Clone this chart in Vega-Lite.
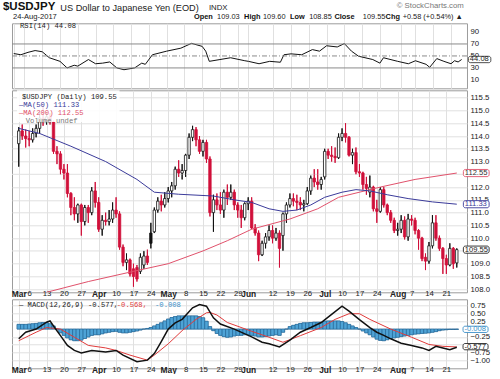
{
"$schema":"https://vega.github.io/schema/vega-lite/v6.json",
"background":"white",
"padding":{"left":2,"top":0.3,"right":0,"bottom":0},
"config":{"view":{"stroke":"#9c9c9c","strokeWidth":1},"font":"Liberation Sans","axis":{"labelFont":"Liberation Sans","labelFontSize":7.8,"labelColor":"#222","ticks":false,"tickSize":0,"domain":false,"gridColor":"#e0e0e0","gridWidth":1,"labelOverlap":false,"labelFlush":false}},
"datasets":{
"px":[
{"i":0,"d":"2017-03-01","o":113.7,"h":114.35,"l":112.8,"c":114.2},
{"i":1,"d":"2017-03-02","o":114.2,"h":114.45,"l":113.85,"c":114.0},
{"i":2,"d":"2017-03-03","o":114.0,"h":114.25,"l":113.55,"c":113.9},
{"i":3,"d":"2017-03-06","o":113.9,"h":114.2,"l":113.6,"c":113.85},
{"i":4,"d":"2017-03-07","o":113.85,"h":114.3,"l":113.75,"c":114.1},
{"i":5,"d":"2017-03-08","o":114.1,"h":114.45,"l":113.95,"c":114.3},
{"i":6,"d":"2017-03-09","o":114.3,"h":114.9,"l":114.1,"c":114.7},
{"i":7,"d":"2017-03-10","o":114.7,"h":115.2,"l":114.4,"c":114.6},
{"i":8,"d":"2017-03-13","o":114.6,"h":114.9,"l":114.45,"c":114.75},
{"i":9,"d":"2017-03-14","o":114.75,"h":114.9,"l":114.45,"c":114.55},
{"i":10,"d":"2017-03-15","o":114.55,"h":114.6,"l":113.3,"c":113.4},
{"i":11,"d":"2017-03-16","o":113.4,"h":113.6,"l":112.9,"c":113.3},
{"i":12,"d":"2017-03-17","o":113.3,"h":113.4,"l":112.5,"c":112.7},
{"i":13,"d":"2017-03-20","o":112.7,"h":112.9,"l":112.3,"c":112.55},
{"i":14,"d":"2017-03-21","o":112.55,"h":112.9,"l":111.6,"c":111.75},
{"i":15,"d":"2017-03-22","o":111.75,"h":111.8,"l":110.9,"c":111.2},
{"i":16,"d":"2017-03-23","o":111.2,"h":111.6,"l":110.7,"c":110.95},
{"i":17,"d":"2017-03-24","o":110.95,"h":111.35,"l":110.6,"c":111.3},
{"i":18,"d":"2017-03-27","o":111.3,"h":111.35,"l":110.1,"c":110.65},
{"i":19,"d":"2017-03-28","o":110.65,"h":111.3,"l":110.5,"c":111.2},
{"i":20,"d":"2017-03-29","o":111.2,"h":111.3,"l":110.6,"c":111.0},
{"i":21,"d":"2017-03-30","o":111.0,"h":112.0,"l":110.9,"c":111.85},
{"i":22,"d":"2017-03-31","o":111.85,"h":112.2,"l":111.2,"c":111.4},
{"i":23,"d":"2017-04-03","o":111.4,"h":111.6,"l":110.25,"c":110.35},
{"i":24,"d":"2017-04-04","o":110.35,"h":110.9,"l":110.1,"c":110.7},
{"i":25,"d":"2017-04-05","o":110.7,"h":111.0,"l":110.5,"c":110.65},
{"i":26,"d":"2017-04-06","o":110.65,"h":111.1,"l":110.5,"c":110.75},
{"i":27,"d":"2017-04-07","o":110.75,"h":111.4,"l":110.6,"c":111.1},
{"i":28,"d":"2017-04-10","o":111.1,"h":111.6,"l":110.8,"c":110.95},
{"i":29,"d":"2017-04-11","o":110.95,"h":111.05,"l":109.55,"c":109.65},
{"i":30,"d":"2017-04-12","o":109.65,"h":109.75,"l":108.9,"c":109.05},
{"i":31,"d":"2017-04-13","o":109.05,"h":109.4,"l":108.75,"c":109.15},
{"i":32,"d":"2017-04-14","o":109.15,"h":109.2,"l":108.5,"c":108.6},
{"i":33,"d":"2017-04-17","o":108.8,"h":109.0,"l":108.1,"c":108.5},
{"i":34,"d":"2017-04-18","o":108.85,"h":108.95,"l":108.3,"c":108.4},
{"i":35,"d":"2017-04-19","o":108.7,"h":109.4,"l":108.6,"c":109.25},
{"i":36,"d":"2017-04-20","o":108.95,"h":109.5,"l":108.8,"c":109.3},
{"i":37,"d":"2017-04-21","o":109.3,"h":109.55,"l":108.95,"c":109.05},
{"i":38,"d":"2017-04-24","o":110.2,"h":110.6,"l":109.6,"c":109.8},
{"i":39,"d":"2017-04-25","o":110.25,"h":111.2,"l":110.2,"c":111.1},
{"i":40,"d":"2017-04-26","o":111.1,"h":111.6,"l":111.0,"c":111.45},
{"i":41,"d":"2017-04-27","o":111.45,"h":111.7,"l":111.05,"c":111.3},
{"i":42,"d":"2017-04-28","o":111.3,"h":111.8,"l":111.2,"c":111.55},
{"i":43,"d":"2017-05-01","o":111.55,"h":112.0,"l":111.4,"c":111.85},
{"i":44,"d":"2017-05-02","o":111.85,"h":112.2,"l":111.6,"c":112.05},
{"i":45,"d":"2017-05-03","o":112.05,"h":112.8,"l":111.9,"c":112.7},
{"i":46,"d":"2017-05-04","o":112.7,"h":113.05,"l":112.4,"c":112.55},
{"i":47,"d":"2017-05-05","o":112.55,"h":112.9,"l":112.3,"c":112.65},
{"i":48,"d":"2017-05-08","o":112.65,"h":113.3,"l":112.4,"c":113.25},
{"i":49,"d":"2017-05-09","o":113.25,"h":114.1,"l":113.1,"c":113.95},
{"i":50,"d":"2017-05-10","o":113.95,"h":114.4,"l":113.8,"c":114.25},
{"i":51,"d":"2017-05-11","o":114.25,"h":114.35,"l":113.6,"c":113.85},
{"i":52,"d":"2017-05-12","o":113.85,"h":114.0,"l":113.3,"c":113.4},
{"i":53,"d":"2017-05-15","o":113.4,"h":113.85,"l":113.2,"c":113.75},
{"i":54,"d":"2017-05-16","o":113.75,"h":113.85,"l":112.95,"c":113.1},
{"i":55,"d":"2017-05-17","o":113.1,"h":113.2,"l":110.85,"c":111.0},
{"i":56,"d":"2017-05-18","o":111.0,"h":111.7,"l":110.25,"c":111.5},
{"i":57,"d":"2017-05-19","o":111.5,"h":111.75,"l":111.1,"c":111.3},
{"i":58,"d":"2017-05-22","o":111.3,"h":111.8,"l":110.95,"c":111.1},
{"i":59,"d":"2017-05-23","o":111.1,"h":111.9,"l":110.8,"c":111.8},
{"i":60,"d":"2017-05-24","o":111.8,"h":112.1,"l":111.3,"c":111.6},
{"i":61,"d":"2017-05-25","o":111.6,"h":112.1,"l":111.5,"c":111.8},
{"i":62,"d":"2017-05-26","o":111.8,"h":111.9,"l":111.1,"c":111.3},
{"i":63,"d":"2017-05-29","o":111.3,"h":111.4,"l":110.8,"c":111.1},
{"i":64,"d":"2017-05-30","o":111.1,"h":111.3,"l":110.4,"c":110.8},
{"i":65,"d":"2017-05-31","o":110.8,"h":111.4,"l":110.7,"c":111.35},
{"i":66,"d":"2017-06-01","o":111.35,"h":111.6,"l":111.1,"c":111.45},
{"i":67,"d":"2017-06-02","o":111.45,"h":111.6,"l":110.35,"c":110.4},
{"i":68,"d":"2017-06-05","o":110.4,"h":110.55,"l":110.1,"c":110.2},
{"i":69,"d":"2017-06-06","o":110.2,"h":110.3,"l":109.1,"c":109.35},
{"i":70,"d":"2017-06-07","o":109.35,"h":109.9,"l":109.3,"c":109.8},
{"i":71,"d":"2017-06-08","o":109.8,"h":110.2,"l":109.6,"c":110.05},
{"i":72,"d":"2017-06-09","o":110.05,"h":110.5,"l":109.9,"c":110.3},
{"i":73,"d":"2017-06-12","o":110.3,"h":110.5,"l":109.8,"c":110.0},
{"i":74,"d":"2017-06-13","o":110.0,"h":110.4,"l":109.9,"c":110.2},
{"i":75,"d":"2017-06-14","o":110.2,"h":110.3,"l":108.85,"c":109.6},
{"i":76,"d":"2017-06-15","o":110.1,"h":111.0,"l":109.5,"c":110.95},
{"i":77,"d":"2017-06-16","o":110.95,"h":111.4,"l":110.6,"c":111.3},
{"i":78,"d":"2017-06-19","o":111.3,"h":111.75,"l":111.2,"c":111.55},
{"i":79,"d":"2017-06-20","o":111.55,"h":111.75,"l":111.25,"c":111.45},
{"i":80,"d":"2017-06-21","o":111.45,"h":111.7,"l":111.1,"c":111.4},
{"i":81,"d":"2017-06-22","o":111.4,"h":111.6,"l":111.1,"c":111.3},
{"i":82,"d":"2017-06-23","o":111.3,"h":111.5,"l":111.05,"c":111.35},
{"i":83,"d":"2017-06-26","o":111.35,"h":112.0,"l":111.3,"c":111.85},
{"i":84,"d":"2017-06-27","o":111.85,"h":112.45,"l":111.7,"c":112.35},
{"i":85,"d":"2017-06-28","o":112.35,"h":112.7,"l":112.0,"c":112.2},
{"i":86,"d":"2017-06-29","o":112.2,"h":112.7,"l":111.9,"c":112.1},
{"i":87,"d":"2017-06-30","o":112.1,"h":112.4,"l":111.9,"c":112.3},
{"i":88,"d":"2017-07-03","o":112.4,"h":113.5,"l":112.3,"c":113.4},
{"i":89,"d":"2017-07-04","o":113.4,"h":113.5,"l":113.1,"c":113.25},
{"i":90,"d":"2017-07-05","o":113.25,"h":113.6,"l":113.0,"c":113.2},
{"i":91,"d":"2017-07-06","o":113.2,"h":113.55,"l":112.95,"c":113.15},
{"i":92,"d":"2017-07-07","o":113.15,"h":114.1,"l":113.1,"c":113.95},
{"i":93,"d":"2017-07-10","o":113.95,"h":114.3,"l":113.8,"c":114.1},
{"i":94,"d":"2017-07-11","o":114.1,"h":114.5,"l":113.75,"c":113.95},
{"i":95,"d":"2017-07-12","o":113.95,"h":114.0,"l":113.2,"c":113.25},
{"i":96,"d":"2017-07-13","o":113.25,"h":113.5,"l":112.9,"c":113.35},
{"i":97,"d":"2017-07-14","o":113.35,"h":113.55,"l":112.5,"c":112.6},
{"i":98,"d":"2017-07-17","o":112.6,"h":112.9,"l":112.4,"c":112.55},
{"i":99,"d":"2017-07-18","o":112.55,"h":112.6,"l":111.9,"c":112.1},
{"i":100,"d":"2017-07-19","o":112.1,"h":112.4,"l":111.7,"c":111.95},
{"i":101,"d":"2017-07-20","o":111.8,"h":112.45,"l":111.6,"c":112.0},
{"i":102,"d":"2017-07-21","o":112.0,"h":112.05,"l":111.05,"c":111.15},
{"i":103,"d":"2017-07-24","o":111.15,"h":111.5,"l":110.6,"c":111.05},
{"i":104,"d":"2017-07-25","o":111.05,"h":112.0,"l":111.0,"c":111.9},
{"i":105,"d":"2017-07-26","o":111.9,"h":112.0,"l":111.2,"c":111.3},
{"i":106,"d":"2017-07-27","o":111.3,"h":111.35,"l":110.9,"c":111.0},
{"i":107,"d":"2017-07-28","o":111.0,"h":111.1,"l":110.6,"c":110.7},
{"i":108,"d":"2017-07-31","o":110.7,"h":110.8,"l":110.2,"c":110.3},
{"i":109,"d":"2017-08-01","o":110.3,"h":110.6,"l":110.1,"c":110.35},
{"i":110,"d":"2017-08-02","o":110.35,"h":110.9,"l":110.2,"c":110.7},
{"i":111,"d":"2017-08-03","o":110.7,"h":110.85,"l":109.95,"c":110.05},
{"i":112,"d":"2017-08-04","o":110.05,"h":110.95,"l":109.9,"c":110.75},
{"i":113,"d":"2017-08-07","o":110.75,"h":110.9,"l":110.5,"c":110.7},
{"i":114,"d":"2017-08-08","o":110.7,"h":110.8,"l":110.15,"c":110.3},
{"i":115,"d":"2017-08-09","o":110.3,"h":110.35,"l":109.55,"c":110.0},
{"i":116,"d":"2017-08-10","o":110.0,"h":110.05,"l":109.1,"c":109.2},
{"i":117,"d":"2017-08-11","o":109.25,"h":109.4,"l":108.75,"c":109.1},
{"i":118,"d":"2017-08-14","o":109.1,"h":109.85,"l":109.0,"c":109.7},
{"i":119,"d":"2017-08-15","o":109.7,"h":110.9,"l":109.6,"c":110.6},
{"i":120,"d":"2017-08-16","o":110.6,"h":110.9,"l":109.9,"c":110.0},
{"i":121,"d":"2017-08-17","o":110.0,"h":110.1,"l":109.5,"c":109.6},
{"i":122,"d":"2017-08-18","o":109.6,"h":109.65,"l":108.6,"c":109.2},
{"i":123,"d":"2017-08-21","o":109.2,"h":109.35,"l":108.6,"c":108.95},
{"i":124,"d":"2017-08-22","o":108.95,"h":109.8,"l":108.9,"c":109.6},
{"i":125,"d":"2017-08-23","o":109.6,"h":109.65,"l":108.8,"c":109.0},
{"i":126,"d":"2017-08-24","o":109.03,"h":109.6,"l":108.85,"c":109.55}
],
"rsi":[{"i":0,"v":54},{"i":2,"v":52},{"i":4,"v":56},{"i":6,"v":59},{"i":8,"v":57},{"i":10,"v":47},{"i":13,"v":41},{"i":15,"v":30},{"i":17,"v":34.5},{"i":18,"v":33},{"i":21,"v":44},{"i":23,"v":37},{"i":25,"v":38},{"i":27,"v":40},{"i":29,"v":30},{"i":31,"v":27},{"i":34,"v":30},{"i":36,"v":38},{"i":37,"v":36},{"i":39,"v":52},{"i":43,"v":58},{"i":47,"v":63},{"i":50,"v":71},{"i":53,"v":66},{"i":54,"v":58},{"i":55,"v":41},{"i":58,"v":44},{"i":61,"v":47},{"i":65,"v":42},{"i":66,"v":41},{"i":69,"v":37},{"i":72,"v":41},{"i":75,"v":39.5},{"i":76,"v":52},{"i":78,"v":53.5},{"i":81,"v":52},{"i":84,"v":60.6},{"i":86,"v":58},{"i":88,"v":67},{"i":91,"v":65},{"i":93,"v":70.6},{"i":95,"v":58},{"i":97,"v":49.5},{"i":101,"v":44},{"i":103,"v":38},{"i":104,"v":47},{"i":108,"v":41},{"i":111,"v":37},{"i":113,"v":42},{"i":116,"v":36},{"i":117,"v":31},{"i":119,"v":45.6},{"i":121,"v":41},{"i":123,"v":37},{"i":124,"v":42},{"i":125,"v":40},{"i":126,"v":44.08}],
"ma50":[{"i":0,"v":114.3},{"i":6,"v":114.1},{"i":15,"v":113.6},{"i":25,"v":113.0},{"i":34,"v":112.3},{"i":39,"v":111.8},{"i":46,"v":111.72},{"i":56,"v":111.65},{"i":62,"v":111.5},{"i":67,"v":111.4},{"i":72,"v":111.15},{"i":76,"v":111.05},{"i":80,"v":111.1},{"i":84,"v":111.3},{"i":88,"v":111.6},{"i":93,"v":111.8},{"i":97,"v":111.9},{"i":101,"v":111.85},{"i":106,"v":111.7},{"i":112,"v":111.55},{"i":119,"v":111.42},{"i":126,"v":111.33}],
"ma200":[{"i":0,"v":107.6},{"i":8,"v":107.88},{"i":20,"v":108.3},{"i":33,"v":108.7},{"i":43,"v":109.0},{"i":53,"v":109.5},{"i":60,"v":109.9},{"i":67,"v":110.35},{"i":78,"v":110.75},{"i":86,"v":111.15},{"i":92,"v":111.6},{"i":104,"v":112.0},{"i":114,"v":112.3},{"i":126,"v":112.55}],
"macd":[{"i":0,"v":-0.31},{"i":2,"v":-0.1},{"i":5,"v":0.0},{"i":8,"v":0.22},{"i":9,"v":0.26},{"i":10,"v":0.1},{"i":12,"v":-0.21},{"i":14,"v":-0.52},{"i":16,"v":-0.68},{"i":18,"v":-0.76},{"i":21,"v":-0.68},{"i":25,"v":-0.73},{"i":28,"v":-0.68},{"i":30,"v":-0.83},{"i":34,"v":-1.04},{"i":37,"v":-0.99},{"i":39,"v":-0.78},{"i":41,"v":-0.4},{"i":43,"v":0.0},{"i":45,"v":0.2},{"i":47,"v":0.31},{"i":50,"v":0.68},{"i":52,"v":0.78},{"i":54,"v":0.73},{"i":56,"v":0.36},{"i":58,"v":0.16},{"i":62,"v":0.0},{"i":67,"v":-0.25},{"i":70,"v":-0.42},{"i":72,"v":-0.47},{"i":75,"v":-0.57},{"i":78,"v":-0.35},{"i":81,"v":-0.1},{"i":84,"v":0.05},{"i":87,"v":0.21},{"i":90,"v":0.47},{"i":93,"v":0.73},{"i":95,"v":0.57},{"i":98,"v":0.3},{"i":101,"v":0.05},{"i":103,"v":-0.1},{"i":105,"v":-0.2},{"i":107,"v":-0.31},{"i":110,"v":-0.45},{"i":113,"v":-0.52},{"i":116,"v":-0.6},{"i":118,"v":-0.68},{"i":120,"v":-0.55},{"i":122,"v":-0.6},{"i":124,"v":-0.66},{"i":126,"v":-0.577}],
"sig":[{"i":0,"v":-0.37},{"i":5,"v":-0.1},{"i":8,"v":0.05},{"i":12,"v":0.0},{"i":16,"v":-0.26},{"i":20,"v":-0.52},{"i":25,"v":-0.6},{"i":28,"v":-0.68},{"i":32,"v":-0.83},{"i":37,"v":-0.99},{"i":39,"v":-0.83},{"i":43,"v":-0.47},{"i":47,"v":-0.05},{"i":51,"v":0.31},{"i":54,"v":0.52},{"i":55,"v":0.53},{"i":57,"v":0.45},{"i":60,"v":0.21},{"i":67,"v":-0.07},{"i":72,"v":-0.26},{"i":76,"v":-0.42},{"i":81,"v":-0.21},{"i":87,"v":0.05},{"i":91,"v":0.31},{"i":95,"v":0.49},{"i":98,"v":0.49},{"i":101,"v":0.31},{"i":107,"v":0.0},{"i":113,"v":-0.26},{"i":118,"v":-0.49},{"i":122,"v":-0.55},{"i":126,"v":-0.568}],
"hist":[{"i":0,"v":0.15},{"i":1,"v":0.15},{"i":2,"v":0.15},{"i":3,"v":0.16},{"i":4,"v":0.17},{"i":5,"v":0.18},{"i":6,"v":0.2},{"i":7,"v":0.21},{"i":8,"v":0.2},{"i":9,"v":0.17},{"i":10,"v":0.1},{"i":11,"v":0.0},{"i":12,"v":-0.12},{"i":13,"v":-0.2},{"i":14,"v":-0.28},{"i":15,"v":-0.34},{"i":16,"v":-0.37},{"i":17,"v":-0.37},{"i":18,"v":-0.35},{"i":19,"v":-0.3},{"i":20,"v":-0.25},{"i":21,"v":-0.2},{"i":22,"v":-0.18},{"i":23,"v":-0.18},{"i":24,"v":-0.15},{"i":25,"v":-0.12},{"i":26,"v":-0.1},{"i":27,"v":-0.08},{"i":28,"v":-0.07},{"i":29,"v":-0.1},{"i":30,"v":-0.12},{"i":31,"v":-0.12},{"i":32,"v":-0.1},{"i":33,"v":-0.08},{"i":34,"v":-0.06},{"i":35,"v":-0.03},{"i":36,"v":0.0},{"i":37,"v":0.02},{"i":38,"v":0.05},{"i":39,"v":0.1},{"i":40,"v":0.15},{"i":41,"v":0.2},{"i":42,"v":0.26},{"i":43,"v":0.32},{"i":44,"v":0.37},{"i":45,"v":0.4},{"i":46,"v":0.42},{"i":47,"v":0.42},{"i":48,"v":0.42},{"i":49,"v":0.42},{"i":50,"v":0.42},{"i":51,"v":0.42},{"i":52,"v":0.4},{"i":53,"v":0.36},{"i":54,"v":0.25},{"i":55,"v":0.08},{"i":56,"v":-0.05},{"i":57,"v":-0.14},{"i":58,"v":-0.2},{"i":59,"v":-0.24},{"i":60,"v":-0.26},{"i":61,"v":-0.25},{"i":62,"v":-0.22},{"i":63,"v":-0.2},{"i":64,"v":-0.2},{"i":65,"v":-0.18},{"i":66,"v":-0.18},{"i":67,"v":-0.2},{"i":68,"v":-0.22},{"i":69,"v":-0.25},{"i":70,"v":-0.25},{"i":71,"v":-0.24},{"i":72,"v":-0.22},{"i":73,"v":-0.2},{"i":74,"v":-0.18},{"i":75,"v":-0.2},{"i":76,"v":-0.1},{"i":77,"v":0.0},{"i":78,"v":0.08},{"i":79,"v":0.12},{"i":80,"v":0.15},{"i":81,"v":0.18},{"i":82,"v":0.2},{"i":83,"v":0.2},{"i":84,"v":0.21},{"i":85,"v":0.22},{"i":86,"v":0.22},{"i":87,"v":0.22},{"i":88,"v":0.25},{"i":89,"v":0.26},{"i":90,"v":0.26},{"i":91,"v":0.26},{"i":92,"v":0.26},{"i":93,"v":0.24},{"i":94,"v":0.2},{"i":95,"v":0.15},{"i":96,"v":0.1},{"i":97,"v":0.05},{"i":98,"v":0.0},{"i":99,"v":-0.06},{"i":100,"v":-0.12},{"i":101,"v":-0.18},{"i":102,"v":-0.25},{"i":103,"v":-0.32},{"i":104,"v":-0.36},{"i":105,"v":-0.37},{"i":106,"v":-0.34},{"i":107,"v":-0.3},{"i":108,"v":-0.28},{"i":109,"v":-0.26},{"i":110,"v":-0.24},{"i":111,"v":-0.22},{"i":112,"v":-0.2},{"i":113,"v":-0.18},{"i":114,"v":-0.16},{"i":115,"v":-0.15},{"i":116,"v":-0.14},{"i":117,"v":-0.13},{"i":118,"v":-0.12},{"i":119,"v":-0.1},{"i":120,"v":-0.08},{"i":121,"v":-0.05},{"i":122,"v":-0.03},{"i":123,"v":-0.02},{"i":124,"v":-0.01},{"i":125,"v":-0.01},{"i":126,"v":-0.008}]
},
"vconcat":[
{"width":455,"height":65,
"resolve":{"axis":{"x":"independent","y":"independent"}},
"layer":[
{"data":{"name":"rsi"},"mark":{"type":"line","color":"#111","strokeWidth":1},
"encoding":{"x":{"field":"i","type":"quantitative","scale":{"domain":[-0.5,127.5],"nice":false,"zero":false},"axis":{"orient":"top","values":[0,3,8,13,18,23,28,33,38,43,48,53,58,63,66,73,78,83,88,93,98,103,109,113,118,123],"labels":false,"grid":true,"title":null}},
"y":{"field":"v","type":"quantitative","scale":{"domain":[-4,104.5],"nice":false,"zero":false},"axis":{"orient":"right","values":[10,30,50,70,90],"grid":false,"title":null,"labelPadding":3,"labelOverlap":false}}}},
{"data":{"values":[{}]},"mark":{"type":"rule","color":"#8a8a8a","strokeWidth":1},"encoding":{"y":{"datum":70,"scale":{"domain":[-4,104.5],"nice":false,"zero":false},"axis":null}}},
{"data":{"values":[{}]},"mark":{"type":"rule","color":"#8a8a8a","strokeWidth":1},"encoding":{"y":{"datum":30,"scale":{"domain":[-4,104.5],"nice":false,"zero":false},"axis":null}}},
{"data":{"values":[{}]},"mark":{"type":"rule","color":"#8a8a8a","strokeWidth":1,"strokeDash":[5,2,1,2]},"encoding":{"y":{"datum":50,"scale":{"domain":[-4,104.5],"nice":false,"zero":false},"axis":null}}},
{"data":{"values":[{}]},"mark":{"type":"rect","fill":"white","stroke":"#222","strokeWidth":0.8,"cornerRadius":2},"encoding":{"x":{"datum":127.9,"scale":{"domain":[-0.5,127.5],"nice":false,"zero":false},"axis":null},"x2":{"datum":134.2},"y":{"datum":49.4,"scale":{"domain":[-4,104.5],"nice":false,"zero":false},"axis":null},"y2":{"datum":38.8}}},
{"data":{"values":[{}]},"mark":{"type":"text","text":"44.08","align":"left","baseline":"middle","fontSize":7.6,"color":"#222"},"encoding":{"x":{"datum":128.3,"scale":{"domain":[-0.5,127.5],"nice":false,"zero":false},"axis":null},"y":{"datum":44.08,"scale":{"domain":[-4,104.5],"nice":false,"zero":false},"axis":null}}},
{"data":{"values":[{}]},"mark":{"type":"text","text":"RSI(14) 44.08","align":"left","baseline":"middle","font":"Liberation Mono","fontSize":7.2,"color":"#222"},"encoding":{"x":{"datum":1.75,"scale":{"domain":[-0.5,127.5],"nice":false,"zero":false},"axis":null},"y":{"datum":99.5,"scale":{"domain":[-4,104.5],"nice":false,"zero":false},"axis":null}}},
{"data":{"values":[{}]},"mark":{"type":"text","text":"$USDJPY","align":"left","baseline":"middle","fontSize":11.5,"fontWeight":"bold","color":"#111"},"encoding":{"x":{"datum":-3.04,"scale":{"domain":[-0.5,127.5],"nice":false,"zero":false},"axis":null},"y":{"datum":131.2,"scale":{"domain":[-4,104.5],"nice":false,"zero":false},"axis":null}}},
{"data":{"values":[{}]},"mark":{"type":"text","text":"US Dollar to Japanese Yen (EOD)","align":"left","baseline":"middle","fontSize":9.2,"color":"#222"},"encoding":{"x":{"datum":13.1,"scale":{"domain":[-0.5,127.5],"nice":false,"zero":false},"axis":null},"y":{"datum":130.7,"scale":{"domain":[-4,104.5],"nice":false,"zero":false},"axis":null}}},
{"data":{"values":[{}]},"mark":{"type":"text","text":"INDX","align":"left","baseline":"middle","fontSize":7.8,"color":"#222"},"encoding":{"x":{"datum":54.9,"scale":{"domain":[-0.5,127.5],"nice":false,"zero":false},"axis":null},"y":{"datum":130.5,"scale":{"domain":[-4,104.5],"nice":false,"zero":false},"axis":null}}},
{"data":{"values":[{}]},"mark":{"type":"text","text":"© StockCharts.com","align":"right","baseline":"middle","fontSize":7.8,"color":"#777"},"encoding":{"x":{"datum":126.6,"scale":{"domain":[-0.5,127.5],"nice":false,"zero":false},"axis":null},"y":{"datum":132.8,"scale":{"domain":[-4,104.5],"nice":false,"zero":false},"axis":null}}},
{"data":{"values":[{}]},"mark":{"type":"text","text":"24-Aug-2017","align":"left","baseline":"middle","fontSize":7.6,"color":"#222"},"encoding":{"x":{"datum":-0.22,"scale":{"domain":[-0.5,127.5],"nice":false,"zero":false},"axis":null},"y":{"datum":114.5,"scale":{"domain":[-4,104.5],"nice":false,"zero":false},"axis":null}}},
{"data":{"values":[{}]},"mark":{"type":"text","text":"Open","align":"left","baseline":"middle","fontSize":7.4,"fontWeight":"bold","color":"#111"},"encoding":{"x":{"datum":50.7,"scale":{"domain":[-0.5,127.5],"nice":false,"zero":false},"axis":null},"y":{"datum":114.5,"scale":{"domain":[-4,104.5],"nice":false,"zero":false},"axis":null}}},
{"data":{"values":[{}]},"mark":{"type":"text","text":"109.03","align":"left","baseline":"middle","fontSize":7.4,"color":"#222"},"encoding":{"x":{"datum":57.2,"scale":{"domain":[-0.5,127.5],"nice":false,"zero":false},"axis":null},"y":{"datum":114.5,"scale":{"domain":[-4,104.5],"nice":false,"zero":false},"axis":null}}},
{"data":{"values":[{}]},"mark":{"type":"text","text":"High","align":"left","baseline":"middle","fontSize":7.4,"fontWeight":"bold","color":"#111"},"encoding":{"x":{"datum":64.8,"scale":{"domain":[-0.5,127.5],"nice":false,"zero":false},"axis":null},"y":{"datum":114.5,"scale":{"domain":[-4,104.5],"nice":false,"zero":false},"axis":null}}},
{"data":{"values":[{}]},"mark":{"type":"text","text":"109.60","align":"left","baseline":"middle","fontSize":7.4,"color":"#222"},"encoding":{"x":{"datum":70.1,"scale":{"domain":[-0.5,127.5],"nice":false,"zero":false},"axis":null},"y":{"datum":114.5,"scale":{"domain":[-4,104.5],"nice":false,"zero":false},"axis":null}}},
{"data":{"values":[{}]},"mark":{"type":"text","text":"Low","align":"left","baseline":"middle","fontSize":7.4,"fontWeight":"bold","color":"#111"},"encoding":{"x":{"datum":77.7,"scale":{"domain":[-0.5,127.5],"nice":false,"zero":false},"axis":null},"y":{"datum":114.5,"scale":{"domain":[-4,104.5],"nice":false,"zero":false},"axis":null}}},
{"data":{"values":[{}]},"mark":{"type":"text","text":"108.85","align":"left","baseline":"middle","fontSize":7.4,"color":"#222"},"encoding":{"x":{"datum":83.1,"scale":{"domain":[-0.5,127.5],"nice":false,"zero":false},"axis":null},"y":{"datum":114.5,"scale":{"domain":[-4,104.5],"nice":false,"zero":false},"axis":null}}},
{"data":{"values":[{}]},"mark":{"type":"text","text":"Close","align":"left","baseline":"middle","fontSize":7.4,"fontWeight":"bold","color":"#111"},"encoding":{"x":{"datum":90.2,"scale":{"domain":[-0.5,127.5],"nice":false,"zero":false},"axis":null},"y":{"datum":114.5,"scale":{"domain":[-4,104.5],"nice":false,"zero":false},"axis":null}}},
{"data":{"values":[{}]},"mark":{"type":"text","text":"109.55","align":"left","baseline":"middle","fontSize":7.4,"color":"#222"},"encoding":{"x":{"datum":98.2,"scale":{"domain":[-0.5,127.5],"nice":false,"zero":false},"axis":null},"y":{"datum":114.5,"scale":{"domain":[-4,104.5],"nice":false,"zero":false},"axis":null}}},
{"data":{"values":[{}]},"mark":{"type":"text","text":"Chg","align":"left","baseline":"middle","fontSize":7.4,"fontWeight":"bold","color":"#111"},"encoding":{"x":{"datum":104.6,"scale":{"domain":[-0.5,127.5],"nice":false,"zero":false},"axis":null},"y":{"datum":114.5,"scale":{"domain":[-4,104.5],"nice":false,"zero":false},"axis":null}}},
{"data":{"values":[{}]},"mark":{"type":"text","text":"+0.58 (+0.54%) ▲","align":"left","baseline":"middle","fontSize":7.4,"color":"#222"},"encoding":{"x":{"datum":109.4,"scale":{"domain":[-0.5,127.5],"nice":false,"zero":false},"axis":null},"y":{"datum":114.5,"scale":{"domain":[-4,104.5],"nice":false,"zero":false},"axis":null}}}
]},
{"width":455,"height":202,
"resolve":{"axis":{"x":"independent","y":"independent"}},
"layer":[
{"data":{"name":"px"},"transform":[{"window":[{"op":"lag","field":"c","as":"pc"}],"sort":[{"field":"i","order":"ascending"}]}],
"mark":{"type":"rule","strokeWidth":1},
"encoding":{"x":{"field":"i","type":"quantitative","scale":{"domain":[-0.5,127.5],"nice":false,"zero":false},"axis":{"values":[0,3,8,13,18,23,28,33,38,43,48,53,58,63,66,73,78,83,88,93,98,103,109,113,118,123],"labelExpr":"['Mar','6','13','20','27','Apr','10','17','24','May','8','15','22','29','Jun','12','19','26','Jul','10','17','24','Aug','7','14','21'][indexof([0,3,8,13,18,23,28,33,38,43,48,53,58,63,66,73,78,83,88,93,98,103,109,113,118,123], datum.value)]","labelFontWeight":{"condition":{"test":"indexof([0,23,43,66,88,109], datum.value) >= 0","value":"bold"},"value":"normal"},"labelFontSize":{"condition":{"test":"indexof([0,23,43,66,88,109], datum.value) >= 0","value":8.4},"value":7.8},"labelPadding":-3,"tickSize":0,"labelFlush":false,"labelOverlap":false,"labelBound":false,"grid":true,"title":null}},
"y":{"field":"l","type":"quantitative","scale":{"domain":[107.88,115.79],"nice":false,"zero":false},"axis":{"orient":"right","values":[108,108.5,109,110,110.5,111,111.5,112,113,113.5,114,114.5,115,115.5],"format":".1f","grid":true,"title":null,"labelPadding":3,"labelOverlap":false}},
"y2":{"field":"h"},
"color":{"condition":{"test":"datum.pc != null && datum.c < datum.pc","value":"#d0103a"},"value":"#111"}}},
{"data":{"values":[{}]},"mark":{"type":"rule","color":"#e0e0e0","strokeWidth":1},"encoding":{"y":{"datum":109.5,"scale":{"domain":[107.88,115.79],"nice":false,"zero":false},"axis":null}}},
{"data":{"values":[{}]},"mark":{"type":"rule","color":"#e0e0e0","strokeWidth":1},"encoding":{"y":{"datum":112.5,"scale":{"domain":[107.88,115.79],"nice":false,"zero":false},"axis":null}}},
{"data":{"name":"px"},"transform":[{"window":[{"op":"lag","field":"c","as":"pc"}],"sort":[{"field":"i","order":"ascending"}]}],
"mark":{"type":"rule","strokeWidth":1},
"encoding":{"x":{"field":"i","type":"quantitative","scale":{"domain":[-0.5,127.5],"nice":false,"zero":false},"axis":null},
"y":{"field":"l","type":"quantitative","scale":{"domain":[107.88,115.79],"nice":false,"zero":false},"axis":null},
"y2":{"field":"h"},
"color":{"condition":{"test":"datum.pc != null && datum.c < datum.pc","value":"#d0103a"},"value":"#111"}}},
{"data":{"name":"px"},"transform":[{"window":[{"op":"lag","field":"c","as":"pc"}],"sort":[{"field":"i","order":"ascending"}]}],
"mark":{"type":"bar","width":2.4,"strokeWidth":0.8},
"encoding":{"x":{"field":"i","type":"quantitative","scale":{"domain":[-0.5,127.5],"nice":false,"zero":false},"axis":null},
"y":{"field":"o","type":"quantitative","scale":{"domain":[107.88,115.79],"nice":false,"zero":false},"axis":null},
"y2":{"field":"c"},
"stroke":{"condition":{"test":"datum.pc != null && datum.c < datum.pc","value":"#d0103a"},"value":"#111"},
"fill":{"condition":[{"test":"datum.c >= datum.o","value":"white"},{"test":"datum.pc != null && datum.c < datum.pc","value":"#d0103a"}],"value":"#111"}}},
{"data":{"values":[{}]},"mark":{"type":"rect","fill":"white","opacity":0.88},"encoding":{"x":{"datum":-0.5,"scale":{"domain":[-0.5,127.5],"nice":false,"zero":false},"axis":null},"x2":{"datum":29},"y":{"datum":115.79,"scale":{"domain":[107.88,115.79],"nice":false,"zero":false},"axis":null},"y2":{"datum":114.55}}},
{"data":{"name":"ma200"},"mark":{"type":"line","color":"#e0506a","strokeWidth":1,"clip":true},"encoding":{"x":{"field":"i","type":"quantitative","scale":{"domain":[-0.5,127.5],"nice":false,"zero":false},"axis":null},"y":{"field":"v","type":"quantitative","scale":{"domain":[107.88,115.79],"nice":false,"zero":false},"axis":null}}},
{"data":{"name":"ma50"},"mark":{"type":"line","color":"#3a3a9a","strokeWidth":1,"clip":true},"encoding":{"x":{"field":"i","type":"quantitative","scale":{"domain":[-0.5,127.5],"nice":false,"zero":false},"axis":null},"y":{"field":"v","type":"quantitative","scale":{"domain":[107.88,115.79],"nice":false,"zero":false},"axis":null}}},
{"data":{"values":[{}]},"mark":{"type":"text","text":"$USDJPY (Daily) 109.55","align":"left","baseline":"middle","font":"Liberation Mono","fontSize":7.2,"color":"#222"},"encoding":{"x":{"datum":0.91,"scale":{"domain":[-0.5,127.5],"nice":false,"zero":false},"axis":null},"y":{"datum":115.52,"scale":{"domain":[107.88,115.79],"nice":false,"zero":false},"axis":null}}},
{"data":{"values":[{}]},"mark":{"type":"text","text":"—MA(50) 111.33","align":"left","baseline":"middle","font":"Liberation Mono","fontSize":7.2,"color":"#3a3a9a"},"encoding":{"x":{"datum":0.06,"scale":{"domain":[-0.5,127.5],"nice":false,"zero":false},"axis":null},"y":{"datum":115.21,"scale":{"domain":[107.88,115.79],"nice":false,"zero":false},"axis":null}}},
{"data":{"values":[{}]},"mark":{"type":"text","text":"—MA(200) 112.55","align":"left","baseline":"middle","font":"Liberation Mono","fontSize":7.2,"color":"#e0506a"},"encoding":{"x":{"datum":0.06,"scale":{"domain":[-0.5,127.5],"nice":false,"zero":false},"axis":null},"y":{"datum":114.92,"scale":{"domain":[107.88,115.79],"nice":false,"zero":false},"axis":null}}},
{"data":{"values":[{}]},"mark":{"type":"text","text":"Volume undef","align":"left","baseline":"middle","font":"Liberation Mono","fontSize":7.2,"color":"#777"},"encoding":{"x":{"datum":2.03,"scale":{"domain":[-0.5,127.5],"nice":false,"zero":false},"axis":null},"y":{"datum":114.6,"scale":{"domain":[107.88,115.79],"nice":false,"zero":false},"axis":null}}},
{"data":{"values":[{}]},"mark":{"type":"rect","fill":"white","stroke":"#e0506a","strokeWidth":0.9,"cornerRadius":2},"encoding":{"x":{"datum":127.9,"scale":{"domain":[-0.5,127.5],"nice":false,"zero":false},"axis":null},"x2":{"datum":135.3},"y":{"datum":112.69,"scale":{"domain":[107.88,115.79],"nice":false,"zero":false},"axis":null},"y2":{"datum":112.41}}},
{"data":{"values":[{}]},"mark":{"type":"text","text":"112.55","align":"left","baseline":"middle","fontSize":7.6,"color":"#333"},"encoding":{"x":{"datum":128.3,"scale":{"domain":[-0.5,127.5],"nice":false,"zero":false},"axis":null},"y":{"datum":112.55,"scale":{"domain":[107.88,115.79],"nice":false,"zero":false},"axis":null}}},
{"data":{"values":[{}]},"mark":{"type":"rect","fill":"white","stroke":"#3a3a9a","strokeWidth":0.9,"cornerRadius":2},"encoding":{"x":{"datum":127.9,"scale":{"domain":[-0.5,127.5],"nice":false,"zero":false},"axis":null},"x2":{"datum":135.3},"y":{"datum":111.47,"scale":{"domain":[107.88,115.79],"nice":false,"zero":false},"axis":null},"y2":{"datum":111.19}}},
{"data":{"values":[{}]},"mark":{"type":"text","text":"111.33","align":"left","baseline":"middle","fontSize":7.6,"color":"#3a3a9a"},"encoding":{"x":{"datum":128.3,"scale":{"domain":[-0.5,127.5],"nice":false,"zero":false},"axis":null},"y":{"datum":111.33,"scale":{"domain":[107.88,115.79],"nice":false,"zero":false},"axis":null}}},
{"data":{"values":[{}]},"mark":{"type":"rect","fill":"white","stroke":"#222","strokeWidth":0.9,"cornerRadius":2},"encoding":{"x":{"datum":127.9,"scale":{"domain":[-0.5,127.5],"nice":false,"zero":false},"axis":null},"x2":{"datum":135.3},"y":{"datum":109.69,"scale":{"domain":[107.88,115.79],"nice":false,"zero":false},"axis":null},"y2":{"datum":109.41}}},
{"data":{"values":[{}]},"mark":{"type":"text","text":"109.55","align":"left","baseline":"middle","fontSize":7.6,"color":"#222"},"encoding":{"x":{"datum":128.3,"scale":{"domain":[-0.5,127.5],"nice":false,"zero":false},"axis":null},"y":{"datum":109.55,"scale":{"domain":[107.88,115.79],"nice":false,"zero":false},"axis":null}}}
]},
{"width":455,"height":69,
"resolve":{"axis":{"x":"independent","y":"independent"}},
"layer":[
{"data":{"name":"hist"},"mark":{"type":"bar","width":3.4,"fill":"#4ea3d6","stroke":"#215f8e","strokeWidth":0.5},
"encoding":{"x":{"field":"i","type":"quantitative","scale":{"domain":[-0.5,127.5],"nice":false,"zero":false},"axis":{"values":[0,3,8,13,18,23,28,33,38,43,48,53,58,63,66,73,78,83,88,93,98,103,109,113,118,123],"labelExpr":"['Mar','6','13','20','27','Apr','10','17','24','May','8','15','22','29','Jun','12','19','26','Jul','10','17','24','Aug','7','14','21'][indexof([0,3,8,13,18,23,28,33,38,43,48,53,58,63,66,73,78,83,88,93,98,103,109,113,118,123], datum.value)]","labelFontWeight":{"condition":{"test":"indexof([0,23,43,66,88,109], datum.value) >= 0","value":"bold"},"value":"normal"},"labelFontSize":{"condition":{"test":"indexof([0,23,43,66,88,109], datum.value) >= 0","value":8.4},"value":7.8},"labelPadding":-3,"tickSize":0,"labelFlush":false,"labelOverlap":false,"labelBound":false,"grid":true,"title":null}},
"y":{"field":"v","type":"quantitative","scale":{"domain":[-1.25,0.95],"nice":false,"zero":false},"axis":{"orient":"right","values":[-1,-0.75,-0.25,0.25,0.5,0.75],"format":".2f","grid":true,"title":null,"labelPadding":3,"labelOverlap":false}},
"y2":{"datum":0}}},
{"data":{"values":[{}]},"mark":{"type":"rule","color":"#e0e0e0","strokeWidth":1},"encoding":{"y":{"datum":-0.5,"scale":{"domain":[-1.25,0.95],"nice":false,"zero":false},"axis":null}}},
{"data":{"name":"hist"},"mark":{"type":"bar","width":3.4,"fill":"#4ea3d6","stroke":"#215f8e","strokeWidth":0.5},
"encoding":{"x":{"field":"i","type":"quantitative","scale":{"domain":[-0.5,127.5],"nice":false,"zero":false},"axis":null},
"y":{"field":"v","type":"quantitative","scale":{"domain":[-1.25,0.95],"nice":false,"zero":false},"axis":null},
"y2":{"datum":0}}},
{"data":{"name":"sig"},"mark":{"type":"line","color":"#e03a3a","strokeWidth":1},"encoding":{"x":{"field":"i","type":"quantitative","scale":{"domain":[-0.5,127.5],"nice":false,"zero":false},"axis":null},"y":{"field":"v","type":"quantitative","scale":{"domain":[-1.25,0.95],"nice":false,"zero":false},"axis":null}}},
{"data":{"name":"macd"},"mark":{"type":"line","color":"#111","strokeWidth":1.5},"encoding":{"x":{"field":"i","type":"quantitative","scale":{"domain":[-0.5,127.5],"nice":false,"zero":false},"axis":null},"y":{"field":"v","type":"quantitative","scale":{"domain":[-1.25,0.95],"nice":false,"zero":false},"axis":null}}},
{"data":{"values":[{}]},"mark":{"type":"text","text":"— MACD(12,26,9) -0.577,","align":"left","baseline":"middle","font":"Liberation Mono","fontSize":7.2,"color":"#222"},"encoding":{"x":{"datum":0.06,"scale":{"domain":[-0.5,127.5],"nice":false,"zero":false},"axis":null},"y":{"datum":0.76,"scale":{"domain":[-1.25,0.95],"nice":false,"zero":false},"axis":null}}},
{"data":{"values":[{}]},"mark":{"type":"text","text":"-0.568,","align":"left","baseline":"middle","font":"Liberation Mono","fontSize":7.2,"color":"#e03a3a"},"encoding":{"x":{"datum":28.2,"scale":{"domain":[-0.5,127.5],"nice":false,"zero":false},"axis":null},"y":{"datum":0.76,"scale":{"domain":[-1.25,0.95],"nice":false,"zero":false},"axis":null}}},
{"data":{"values":[{}]},"mark":{"type":"text","text":"-0.008","align":"left","baseline":"middle","font":"Liberation Mono","fontSize":7.2,"color":"#3a8fc8"},"encoding":{"x":{"datum":39.2,"scale":{"domain":[-0.5,127.5],"nice":false,"zero":false},"axis":null},"y":{"datum":0.76,"scale":{"domain":[-1.25,0.95],"nice":false,"zero":false},"axis":null}}},
{"data":{"values":[{}]},"mark":{"type":"rect","fill":"white","stroke":"#3a8fc8","strokeWidth":0.9,"cornerRadius":2},"encoding":{"x":{"datum":127.8,"scale":{"domain":[-0.5,127.5],"nice":false,"zero":false},"axis":null},"x2":{"datum":135.0},"y":{"datum":0.092,"scale":{"domain":[-1.25,0.95],"nice":false,"zero":false},"axis":null},"y2":{"datum":-0.108}}},
{"data":{"values":[{}]},"mark":{"type":"text","text":"-0.008","align":"left","baseline":"middle","fontSize":7.6,"color":"#3a8fc8"},"encoding":{"x":{"datum":128.2,"scale":{"domain":[-0.5,127.5],"nice":false,"zero":false},"axis":null},"y":{"datum":-0.008,"scale":{"domain":[-1.25,0.95],"nice":false,"zero":false},"axis":null}}},
{"data":{"values":[{}]},"mark":{"type":"rect","fill":"white","stroke":"#222","strokeWidth":0.9,"cornerRadius":2},"encoding":{"x":{"datum":127.8,"scale":{"domain":[-0.5,127.5],"nice":false,"zero":false},"axis":null},"x2":{"datum":135.0},"y":{"datum":-0.46,"scale":{"domain":[-1.25,0.95],"nice":false,"zero":false},"axis":null},"y2":{"datum":-0.66}}},
{"data":{"values":[{}]},"mark":{"type":"text","text":"-0.577","align":"left","baseline":"middle","fontSize":7.6,"color":"#222"},"encoding":{"x":{"datum":128.2,"scale":{"domain":[-0.5,127.5],"nice":false,"zero":false},"axis":null},"y":{"datum":-0.56,"scale":{"domain":[-1.25,0.95],"nice":false,"zero":false},"axis":null}}}
]}
],
"spacing":0
}
